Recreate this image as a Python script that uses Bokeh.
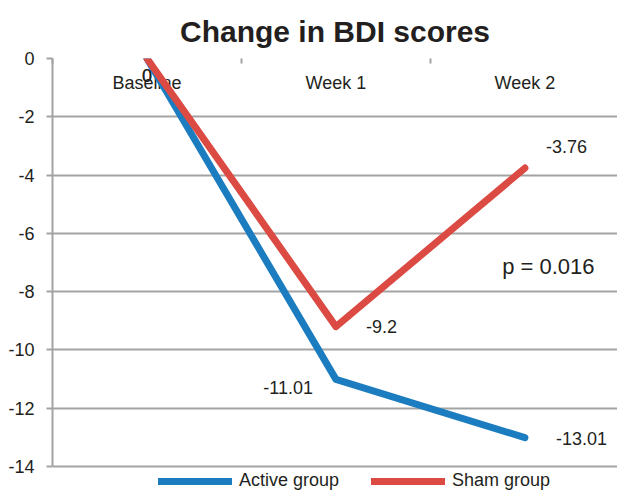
from bokeh.plotting import figure
from bokeh.models import (Range1d, FixedTicker, Legend, LegendItem, Label,
                          ColumnDataSource)
from bokeh.core.properties import value
from bokeh.embed import file_html
from bokeh.resources import INLINE

# ---- data ----
categories = ["Baseline", "Week 1", "Week 2"]
active_values = [0, -11.01, -13.01]
sham_values = [0, -9.2, -3.76]
y_ticks = [0, -2, -4, -6, -8, -10, -12, -14]
title_text = "Change in BDI scores"
p_text = "p = 0.016"
series_names = ["Active group", "Sham group"]

# ---- styles ----
FONT = "Liberation Sans"
TXT = "#231f20"
GRAY = "#a3a3a3"
BLUE = "#1b7dc0"
RED = "#db4a43"

xs = list(range(len(categories)))
bounds = [x - 0.5 for x in xs] + [len(xs) - 0.5]
y_lo, y_hi = min(y_ticks), max(y_ticks)

p = figure(width=617, height=491, output_backend="svg", toolbar_location=None,
           x_range=Range1d(-0.5, 2.49), y_range=Range1d(y_lo - 0.858, y_hi),
           x_axis_location="above", min_border_left=52, min_border_right=0,
           min_border_top=58, min_border_bottom=0)
p.outline_line_color = None
p.background_fill_color = "white"

p.title.text = title_text
p.title.align = "center"
p.title.text_font = FONT
p.title.text_font_size = "30px"
p.title.text_font_style = "bold"
p.title.text_color = TXT
p.title.standoff = 22

# y axis
yax = p.yaxis[0]
yax.ticker = FixedTicker(ticks=y_ticks)
yax.bounds = (y_lo, y_hi)
yax.major_label_overrides = {t: str(t) for t in y_ticks}
yax.axis_line_color = GRAY
yax.axis_line_width = 2
yax.major_tick_line_color = GRAY
yax.major_tick_line_width = 2
yax.major_tick_out = 6
yax.major_tick_in = 0
yax.minor_tick_line_color = None
yax.major_label_text_font = FONT
yax.major_label_text_font_size = "18px"
yax.major_label_text_color = TXT
yax.major_label_standoff = 12

# top x axis (tick marks at category boundaries)
xax = p.xaxis[0]
xax.ticker = FixedTicker(ticks=bounds)
xax.axis_line_color = None
xax.major_tick_line_color = GRAY
xax.major_tick_line_width = 2
xax.major_tick_in = 5
xax.major_tick_out = 0
xax.minor_tick_line_color = None
xax.major_label_text_font_size = "6px"
xax.major_label_text_alpha = 0
xax.major_label_standoff = 0

p.xgrid.grid_line_color = None
p.ygrid.ticker = FixedTicker(ticks=y_ticks)
p.ygrid.grid_line_color = GRAY
p.ygrid.grid_line_width = 2

# category labels inside the plot under the zero line
p.text(x=xs, y=[0] * len(xs), text=categories, y_offset=24,
       text_align="center", text_baseline="middle",
       text_font=value(FONT), text_font_size="18px", text_color=TXT)

r_active = p.line(xs, active_values, line_color=BLUE, line_width=7,
                  line_join="round", line_cap="round")
r_sham = p.line(xs, sham_values, line_color=RED, line_width=7,
                line_join="round", line_cap="round")

# data labels
def fmt(v):
    return "0" if v == 0 else ("%g" % v)

act_src = ColumnDataSource(dict(x=xs, y=active_values,
                                t=[fmt(v) for v in active_values],
                                xo=[0, -23, 31], yo=[17, 8, 1],
                                al=["center", "right", "left"]))
sham_src = ColumnDataSource(dict(x=xs, y=sham_values,
                                 t=[fmt(v) for v in sham_values],
                                 xo=[0, 30, 21], yo=[17, 0, -22],
                                 al=["center", "left", "left"]))
for src in (act_src, sham_src):
    p.text(x="x", y="y", text="t", x_offset="xo", y_offset="yo",
           text_align="al", text_baseline="middle", source=src,
           text_font=value(FONT), text_font_size="18px", text_color=TXT)

p.add_layout(Label(x=2.124, y=-7.14, text=p_text, text_align="center",
                   text_baseline="middle", text_font=FONT,
                   text_font_size="22px", text_color=TXT))

legend = Legend(items=[LegendItem(label=series_names[0], renderers=[r_active]),
                       LegendItem(label=series_names[1], renderers=[r_sham])],
                orientation="horizontal", location=(106, 0),
                padding=0, margin=0, spacing=32, glyph_width=74,
                glyph_height=18, label_height=18, label_standoff=7,
                label_text_font=FONT, label_text_font_size="18px",
                label_text_color=TXT, border_line_color=None,
                background_fill_alpha=0)
p.add_layout(legend, "center")

open("out.html", "w").write(file_html(p, INLINE))
